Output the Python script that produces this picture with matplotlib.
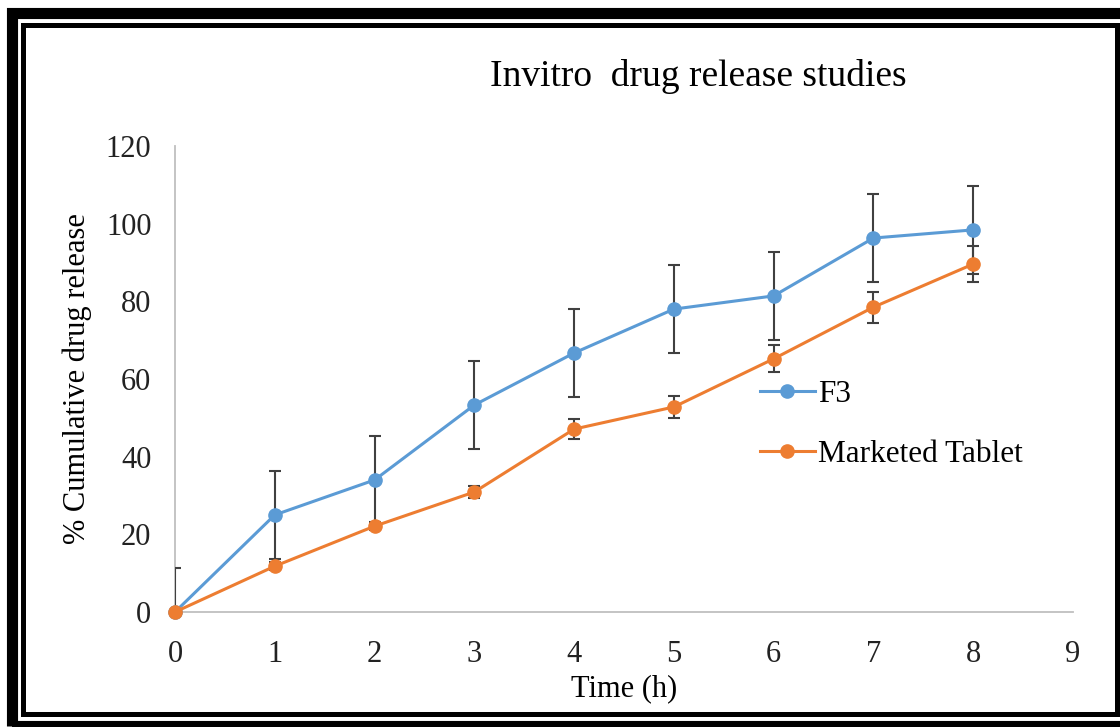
import matplotlib.pyplot as plt
from matplotlib.patches import Rectangle

time_h = [0, 1, 2, 3, 4, 5, 6, 7, 8]
f3 = [0, 25.0, 34.0, 53.3, 66.7, 78.0, 81.4, 96.3, 98.4]
f3_err_low = [0, 11.3, 11.3, 11.3, 11.3, 11.3, 11.3, 11.3, 11.3]
f3_err_high = [11.3, 11.3, 11.3, 11.3, 11.3, 11.3, 11.3, 11.3, 11.3]
marketed = [0, 11.8, 22.1, 30.9, 47.1, 52.8, 65.2, 78.5, 89.6]
marketed_err = [0, 1.0, 1.0, 1.5, 2.5, 2.8, 3.5, 4.0, 4.7]

plt.rcParams['font.family'] = ['Liberation Serif', 'DejaVu Serif']

W, H = 1120, 727
fig = plt.figure(figsize=(W / 100, H / 100), dpi=100)
ax = fig.add_axes([175 / W, 1 - 612 / H, 898 / W, 466 / H])

blue = '#5B9BD5'
orange = '#ED7D31'
ecol = '#404040'

for y, err, col, lab in [(f3, [f3_err_low, f3_err_high], blue, 'F3'),
                         (marketed, marketed_err, orange, 'Marketed Tablet')]:
    cont = ax.errorbar(time_h, y, yerr=err, color=col, lw=2.2,
                       marker='o', ms=9.5, ecolor=ecol, elinewidth=1.5,
                       capsize=4, capthick=1.5, label=lab, zorder=3)
    cont[0].set_clip_on(False)

ax.set_xlim(0, 9)
ax.set_ylim(0, 120)
ax.set_xticks(range(0, 10))
ax.set_yticks(range(0, 121, 20))
ax.tick_params(length=0, labelsize=22, colors='#222222')
ax.tick_params(axis='y', pad=17)
ax.tick_params(axis='x', pad=20)
for s in ['top', 'right']:
    ax.spines[s].set_visible(False)
for s in ['left', 'bottom']:
    ax.spines[s].set_color('#bfbfbf')
    ax.spines[s].set_linewidth(1.3)
ax.set_xlabel('Time (h)', fontsize=22, labelpad=4)
ax.set_ylabel('% Cumulative drug release', fontsize=22, labelpad=10)

handles, labels = ax.get_legend_handles_labels()
handles = [h[0] for h in handles]
ax.legend(handles, labels, loc='upper left', bbox_to_anchor=(0.627, 0.545),
          frameon=False, fontsize=22.5, labelspacing=1.0, handlelength=1.75,
          handletextpad=0.1, borderpad=0.2)

fig.text(698 / W, 1 - 76 / H, 'Invitro  drug release studies',
         ha='center', va='center', fontsize=27)

# double black frame
fig.patches.append(Rectangle((11.5 / W, 1 / H), 1125 / W, 1 - 14 / H,
                             transform=fig.transFigure, fill=False,
                             ec='black', lw=8))
fig.patches.append(Rectangle((22.5 / W, 13 / H), 1094.5 / W, 1 - 37.5 / H,
                             transform=fig.transFigure, fill=False,
                             ec='black', lw=3.6))

fig.savefig('out.png', dpi=100)
